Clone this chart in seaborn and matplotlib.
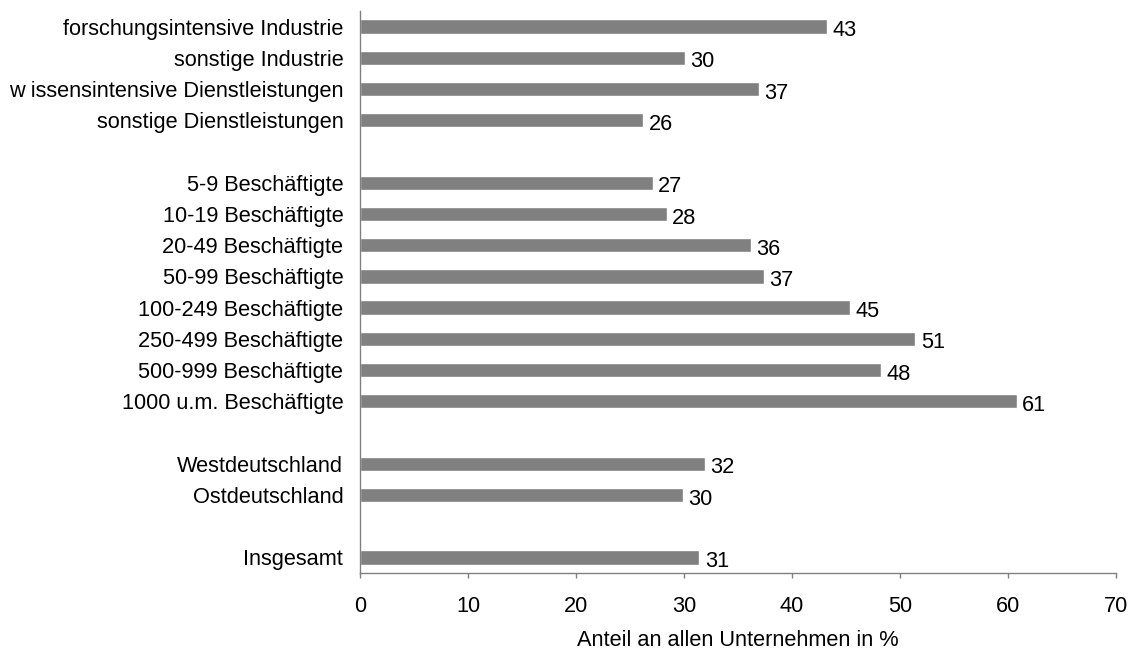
import matplotlib
matplotlib.use('Agg')
import matplotlib.pyplot as plt
import seaborn as sns
import pandas as pd

# categories (top to bottom) and shares in %
categories = [
    'forschungsintensive Industrie', 'sonstige Industrie',
    'w issensintensive Dienstleistungen', 'sonstige Dienstleistungen',
    '5-9 Beschäftigte', '10-19 Beschäftigte', '20-49 Beschäftigte',
    '50-99 Beschäftigte', '100-249 Beschäftigte', '250-499 Beschäftigte',
    '500-999 Beschäftigte', '1000 u.m. Beschäftigte',
    'Westdeutschland', 'Ostdeutschland',
    'Insgesamt',
]
values = [43.2, 30.1, 36.9, 26.2,
          27.1, 28.4, 36.2, 37.4, 45.4, 51.4, 48.2, 60.8,
          31.9, 29.9,
          31.4]

# empty category slots separate the groups
order = (categories[:4] + [' '] + categories[4:12] + ['  ']
         + categories[12:14] + ['   '] + categories[14:])

df = pd.DataFrame({'Kategorie': categories, 'Anteil': values})

sns.set_style('white')
plt.rcParams['font.family'] = ['Liberation Sans', 'DejaVu Sans']
plt.rcParams['font.size'] = 15.7
plt.rcParams['text.color'] = 'black'
plt.rcParams['axes.labelcolor'] = 'black'

fig = plt.figure(figsize=(11.34, 6.49), dpi=100)
ax = fig.add_axes([360 / 1134, 1 - 573 / 649, 756 / 1134, 562 / 649])

sns.barplot(data=df, x='Anteil', y='Kategorie', order=order, orient='h',
            color='#808080', saturation=1, width=0.46, ax=ax)

labels = ax.bar_label(ax.containers[0], fmt='%.0f', padding=4, fontsize=15.7,
                      color='black')
for t in labels:
    t.xyann = (4, -3)

ax.set_xlim(0, 70)
ax.set_xticks(range(0, 71, 10))
ax.set_xlabel('Anteil an allen Unternehmen in %', fontsize=15.7, labelpad=9)
ax.set_ylabel('')

for side in ['top', 'right']:
    ax.spines[side].set_visible(False)
for side in ['left', 'bottom']:
    ax.spines[side].set_color('#808080')
    ax.spines[side].set_linewidth(1)

ax.tick_params(axis='x', length=3.6, direction='out', color='#808080',
               width=1, pad=13, labelsize=15.7, labelcolor='black', bottom=True)
ax.tick_params(axis='y', length=0, pad=12, labelsize=15.7, labelcolor='black')

fig.savefig('out.png', dpi=100)
